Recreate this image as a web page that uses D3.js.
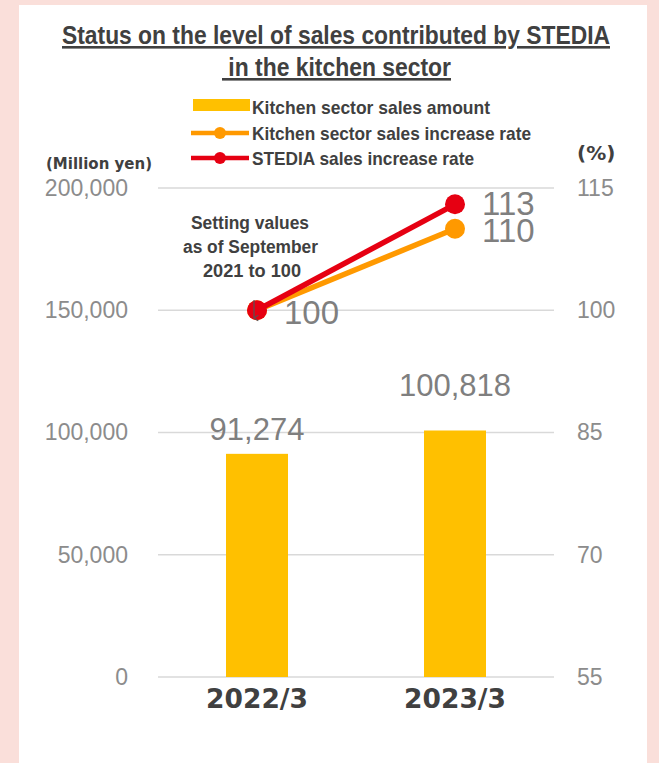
<!DOCTYPE html>
<html>
<head>
<meta charset="utf-8">
<script src="https://cdn.jsdelivr.net/npm/d3@7"></script>
<style>
  body { margin: 0; background: #fadfda; }
  svg { display: block; }
</style>
</head>
<body>
<svg id="chart"></svg>
<script>
// data
const categories = ['2022/3', '2023/3'];
const salesAmount = [91274, 100818];
const kitchenRate = [100, 110];
const stediaRate = [100, 113];
const leftTicks = [0, 50000, 100000, 150000, 200000];
const rightTicks = [55, 70, 85, 100, 115];

const width = 659, height = 763;
const margin = { top: 188, right: 105, bottom: 86, left: 158 };

const svg = d3.select('#chart')
  .attr('width', width)
  .attr('height', height);

// white panel
svg.append('rect')
  .attr('x', 19).attr('y', 5)
  .attr('width', 628).attr('height', height - 5)
  .attr('fill', '#fff');

const x = d3.scaleBand()
  .domain(categories)
  .range([margin.left, width - margin.right])
  .padding(0);

const y = d3.scaleLinear()
  .domain([0, 200000])
  .range([height - margin.bottom, margin.top]);

const y2 = d3.scaleLinear()
  .domain([55, 115])
  .range([height - margin.bottom, margin.top]);

const textColor = '#404040';
const gray = '#8c8c8c';
const narrow = '"Liberation Sans Narrow", "Arial Narrow", "Liberation Sans", Arial, sans-serif';

// narrow bold text squeezed to a given width (no condensed font installed)
const squeeze = (sel, w) => sel.attr('textLength', w).attr('lengthAdjust', 'spacingAndGlyphs');

// title
const title = svg.append('g')
  .attr('font-family', narrow)
  .attr('font-weight', 'bold')
  .attr('font-size', 26)
  .attr('fill', textColor);
squeeze(title.append('text').attr('x', 62).attr('y', 44)
  .attr('text-decoration', 'underline')
  .text('Status on the level of sales contributed by STEDIA'), 548);
squeeze(title.append('text').attr('x', 222).attr('y', 76)
  .attr('text-decoration', 'underline')
  .text('\u00a0in the kitchen sector'), 229);

// grid
svg.append('g')
  .selectAll('line')
  .data(leftTicks)
  .join('line')
  .attr('x1', margin.left)
  .attr('x2', width - margin.right)
  .attr('y1', d => y(d))
  .attr('y2', d => y(d))
  .attr('stroke', '#d9d9d9')
  .attr('stroke-width', 1.5);

// left axis
const leftAxis = svg.append('g')
  .attr('transform', `translate(${margin.left - 30},0)`)
  .call(d3.axisLeft(y).tickValues(leftTicks).tickSize(0).tickPadding(0).tickFormat(d3.format(',')));
leftAxis.select('.domain').remove();
leftAxis.selectAll('text')
  .attr('font-family', '"Liberation Sans", Arial, sans-serif')
  .attr('font-size', 23)
  .attr('fill', gray);

// right axis
const rightAxis = svg.append('g')
  .attr('transform', `translate(${width - margin.right + 23},0)`)
  .call(d3.axisRight(y2).tickValues(rightTicks).tickSize(0).tickPadding(0));
rightAxis.select('.domain').remove();
rightAxis.selectAll('text')
  .attr('font-family', '"Liberation Sans", Arial, sans-serif')
  .attr('font-size', 23)
  .attr('fill', gray);

// axis unit labels
svg.append('text')
  .attr('x', 46).attr('y', 169)
  .attr('font-family', '"DejaVu Sans", Verdana, sans-serif')
  .attr('font-weight', 'bold')
  .attr('font-size', 15)
  .attr('fill', textColor)
  .text('(Million yen)');
svg.append('text')
  .attr('x', 577).attr('y', 160)
  .attr('font-family', '"DejaVu Sans", Verdana, sans-serif')
  .attr('font-weight', 'bold')
  .attr('font-size', 20)
  .attr('fill', textColor)
  .text('(%)');

// bars
const barW = 62;
svg.append('g')
  .selectAll('rect')
  .data(salesAmount)
  .join('rect')
  .attr('x', (d, i) => x(categories[i]) + x.bandwidth() / 2 - barW / 2)
  .attr('y', d => y(d))
  .attr('width', barW)
  .attr('height', d => y(0) - y(d))
  .attr('fill', '#ffc000');

// bar labels (placed by hand in the original, so offsets differ)
const labelLift = [14, 35];
svg.append('g')
  .selectAll('text')
  .data(salesAmount)
  .join('text')
  .attr('x', (d, i) => x(categories[i]) + x.bandwidth() / 2)
  .attr('y', (d, i) => y(d) - labelLift[i])
  .attr('text-anchor', 'middle')
  .attr('font-family', '"Liberation Sans", Arial, sans-serif')
  .attr('font-size', 31)
  .attr('fill', '#7f7f7f')
  .text(d => d3.format(',')(d));

// x labels
svg.append('g')
  .selectAll('text')
  .data(categories)
  .join('text')
  .attr('x', d => x(d) + x.bandwidth() / 2)
  .attr('y', height - margin.bottom + 31)
  .attr('text-anchor', 'middle')
  .attr('font-family', '"DejaVu Sans", Verdana, sans-serif')
  .attr('font-weight', 'bold')
  .attr('font-size', 26.5)
  .attr('fill', textColor)
  .text(d => d);

// lines
const cx = i => x(categories[i]) + x.bandwidth() / 2;
const series = [
  { values: kitchenRate, color: '#ff9900' },
  { values: stediaRate, color: '#e60012' }
];
const line = d3.line().x((d, i) => cx(i)).y(d => y2(d));

series.forEach(s => {
  svg.append('path')
    .datum(s.values)
    .attr('fill', 'none')
    .attr('stroke', s.color)
    .attr('stroke-width', 5.5)
    .attr('d', line);
  svg.append('g')
    .selectAll('circle')
    .data(s.values)
    .join('circle')
    .attr('cx', (d, i) => cx(i))
    .attr('cy', d => y2(d))
    .attr('r', 10)
    .attr('fill', s.color);
});

// line labels
const lineLabel = (txt, i, v, dy) => svg.append('text')
  .attr('x', cx(i) + 27)
  .attr('y', y2(v) + dy)
  .attr('font-family', '"Liberation Sans", Arial, sans-serif')
  .attr('font-size', 33)
  .attr('fill', '#7f7f7f')
  .text(txt);
lineLabel(stediaRate[1], 1, stediaRate[1], 11);
lineLabel(kitchenRate[1], 1, kitchenRate[1], 13);
lineLabel(kitchenRate[0], 0, kitchenRate[0], 14);

// annotation
const note = svg.append('g')
  .attr('font-family', narrow)
  .attr('font-weight', 'bold')
  .attr('font-size', 18)
  .attr('fill', textColor);
[['Setting values', 191, 118], ['as of September', 183, 135], ['2021 to 100', 203, 98]].forEach((t, i) => {
  squeeze(note.append('text').attr('x', t[1]).attr('y', 229 + i * 24).text(t[0]), t[2]);
});
svg.append('defs').append('marker')
  .attr('id', 'arr')
  .attr('viewBox', '0 0 10 10')
  .attr('refX', 5).attr('refY', 9)
  .attr('markerWidth', 6).attr('markerHeight', 6)
  .attr('orient', 'auto')
  .append('path')
  .attr('d', 'M1,3 L5,9 L9,3')
  .attr('fill', 'none')
  .attr('stroke', '#555')
  .attr('stroke-width', 1.5);
svg.append('line')
  .attr('x1', cx(0) - 3).attr('x2', cx(0) - 3)
  .attr('y1', 300).attr('y2', 318)
  .attr('stroke', '#555')
  .attr('stroke-width', 1.2)
  .attr('marker-end', 'url(#arr)');

// legend
const lg = svg.append('g')
  .attr('font-family', narrow)
  .attr('font-weight', 'bold')
  .attr('font-size', 19)
  .attr('fill', textColor);
lg.append('rect')
  .attr('x', 193).attr('y', 99)
  .attr('width', 57).attr('height', 12)
  .attr('fill', '#ffc000');
squeeze(lg.append('text').attr('x', 252).attr('y', 114).text('Kitchen sector sales amount'), 238);
[{ c: '#ff9900', y: 133, t: 'Kitchen sector sales increase rate', w: 279 },
 { c: '#e60012', y: 158, t: 'STEDIA sales increase rate', w: 222 }].forEach(d => {
  lg.append('line')
    .attr('x1', 191).attr('x2', 249)
    .attr('y1', d.y).attr('y2', d.y)
    .attr('stroke', d.c).attr('stroke-width', 4.5);
  lg.append('circle').attr('cx', 220).attr('cy', d.y).attr('r', 6).attr('fill', d.c);
  squeeze(lg.append('text').attr('x', 252).attr('y', d.y + 7).text(d.t), d.w);
});
</script>
</body>
</html>
